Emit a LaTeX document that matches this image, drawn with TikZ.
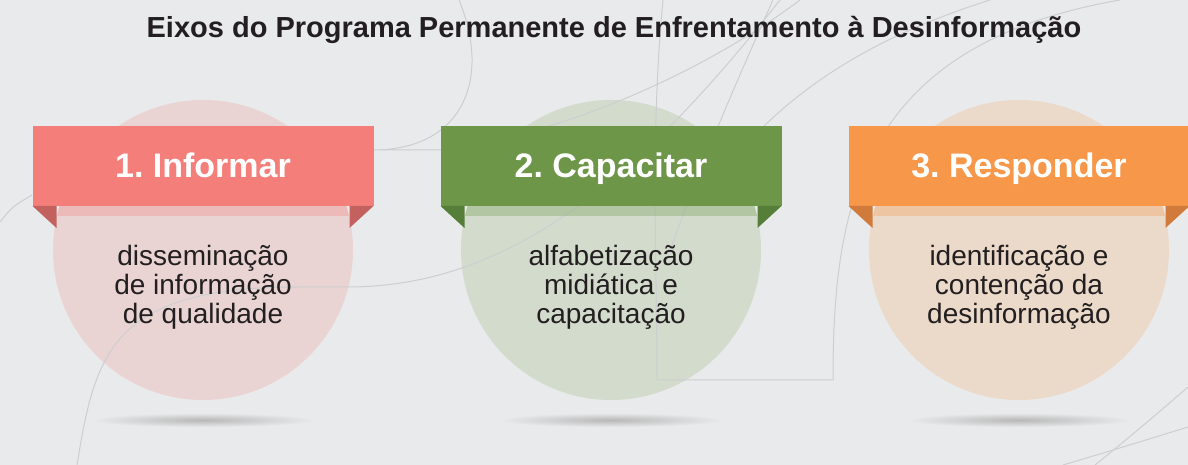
\documentclass[tikz,border=0pt]{standalone}
\usepackage{fontspec}
\setmainfont{Liberation Sans}
\usepackage{tikz}
\usetikzlibrary{positioning, calc}
\definecolor{pagebg}{HTML}{E9EAEC}
\definecolor{inkdark}{HTML}{231F20}
\definecolor{swirl}{HTML}{CDCED0}
\definecolor{infred}{HTML}{F47F7A}
\definecolor{infredfold}{HTML}{C2615D}
\definecolor{infredpale}{HTML}{E9D4D3}
\definecolor{capgreen}{HTML}{6E9649}
\definecolor{capgreenfold}{HTML}{557E38}
\definecolor{capgreenpale}{HTML}{D2DBCC}
\definecolor{resorange}{HTML}{F6974A}
\definecolor{resorangefold}{HTML}{D07B3B}
\definecolor{resorangepale}{HTML}{EBD9CA}
\frenchspacing

\begin{document}
\begin{tikzpicture}[
        x=1pt, y=1pt,
        node distance=108pt,
        disc/.style={circle, minimum size=300pt, inner sep=0pt, outer sep=0pt},
        banner/.style={minimum width=341pt, minimum height=80pt,
                       inner sep=0pt, outer sep=0pt, text=white,
                       text height=24pt, text depth=0pt,
                       font=\fontsize{34}{40}\selectfont\bfseries},
        desc/.style={align=center, text=inkdark,
                     font=\fontsize{28}{29}\selectfont},
        swirlline/.style={draw=swirl, line width=1pt}
      ]
        \useasboundingbox (0,0) rectangle (1188,465);
        \fill[pagebg] (0,0) rectangle (1188,465);

        % circles
        \node[disc, fill=infredpale]    (circ1) at (203,215) {};
        \node[disc, fill=capgreenpale]  (circ2) [right=of circ1] {};
        \node[disc, fill=resorangepale] (circ3) [right=of circ2] {};

        % shadows
        \shade[inner color=black!28, outer color=pagebg]
          ($(circ1.south)+(0,-20)$) ellipse (112 and 7);
        \shade[inner color=black!28, outer color=pagebg]
          ($(circ2.south)+(0,-20)$) ellipse (112 and 7);
        \shade[inner color=black!28, outer color=pagebg]
          ($(circ3.south)+(0,-20)$) ellipse (112 and 7);

        % background lines
        \draw[swirlline] (459,465) .. controls (492,385) and (462,315) .. (373,315) -- (440,315);
        \draw[swirlline] (0,243) .. controls (12,258) .. (32,270);
        \draw[swirlline] (77,0) .. controls (95,110) and (110,178) .. (298,178) -- (352,178)
          .. controls (520,180) and (650,300) .. (780,465);
        \draw[swirlline] (663,465) .. controls (650,330) and (657,200) .. (657,85) -- (833,85)
          .. controls (833,260) and (860,420) .. (1120,465);
        \draw[swirlline] (440,315) .. controls (560,330) and (700,390) .. (800,465);
        \draw[swirlline] (773,465) .. controls (735,380) and (700,300) .. (665,200);
        \draw[swirlline] (990,465) .. controls (880,430) and (790,380) .. (720,290);
        \draw[swirlline] (1188,78) .. controls (1150,45) and (1120,20) .. (1095,0);
        \draw[swirlline] (1188,38) .. controls (1130,20) and (1090,8) .. (1063,0);

        % banner shade on the circles
        \begin{scope}
          \clip (circ1.center) circle (150);
          \fill[infred, opacity=.3] ($(circ1.center)+(-150,44)$) rectangle ($(circ1.center)+(150,34)$);
        \end{scope}
        \begin{scope}
          \clip (circ2.center) circle (150);
          \fill[capgreen, opacity=.3] ($(circ2.center)+(-150,44)$) rectangle ($(circ2.center)+(150,34)$);
        \end{scope}
        \begin{scope}
          \clip (circ3.center) circle (150);
          \fill[resorange, opacity=.3] ($(circ3.center)+(-150,44)$) rectangle ($(circ3.center)+(150,34)$);
        \end{scope}

        % banners
        \node[banner, fill=infred]    (ban1) at ($(circ1.center)+(0,84)$) {1. Informar};
        \node[banner, fill=capgreen]  (ban2) at ($(circ2.center)+(0,84)$) {2. Capacitar};
        \node[banner, fill=resorange] (ban3) at ($(circ3.center)+(0,84)$) {3. Responder};
        \fill[infredfold] (ban1.south west) -- ++(24,0) -- ++(0,-22) -- cycle;
        \fill[infredfold] (ban1.south east) -- ++(-24,0) -- ++(0,-22) -- cycle;
        \fill[capgreenfold] (ban2.south west) -- ++(24,0) -- ++(0,-22) -- cycle;
        \fill[capgreenfold] (ban2.south east) -- ++(-24,0) -- ++(0,-22) -- cycle;
        \fill[resorangefold] (ban3.south west) -- ++(24,0) -- ++(0,-22) -- cycle;
        \fill[resorangefold] (ban3.south east) -- ++(-24,0) -- ++(0,-22) -- cycle;

        % texts
        \node[desc] (txt1) at ($(circ1.center)+(0,-37)$) {disseminação\\de informação\\de qualidade};
        \node[desc] (txt2) at ($(circ2.center)+(0,-37)$) {alfabetização\\midiática e\\capacitação};
        \node[desc] (txt3) at ($(circ3.center)+(0,-37)$) {identificação e\\contenção da\\desinformação};
        \node[anchor=base, text=inkdark, font=\fontsize{29}{34}\selectfont\bfseries]
          (title) at (614,427) {Eixos do Programa Permanente de Enfrentamento à Desinformação};
      \end{tikzpicture}
\end{document}
